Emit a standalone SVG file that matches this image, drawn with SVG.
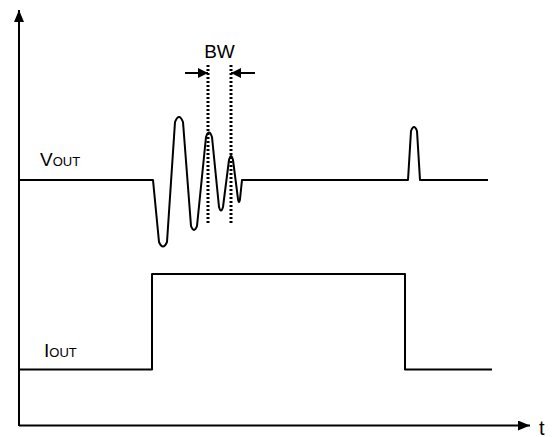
<svg xmlns="http://www.w3.org/2000/svg" width="553" height="437" viewBox="0 0 553 437">
<style>
.ln{fill:none;stroke:#000;stroke-width:2;stroke-linejoin:round}
.dot{fill:none;stroke:#000;stroke-width:3;stroke-dasharray:2 2}
.tx{font-family:"Liberation Sans",Arial,sans-serif;fill:#000}
</style>
<defs>
<marker id="ah" viewBox="0 0 12 10" refX="12" refY="5" markerWidth="12" markerHeight="10" markerUnits="userSpaceOnUse" orient="auto">
<path d="M0,0 L12,5 L0,10 Z" fill="#000"/>
</marker>
<marker id="ahs" viewBox="0 0 10 10" refX="10" refY="5" markerWidth="10" markerHeight="10" markerUnits="userSpaceOnUse" orient="auto">
<path d="M0,0 L10,5 L0,10 Z" fill="#000"/>
</marker>
</defs>
<rect width="553" height="437" fill="#fff"/>
<g id="connectors">
<path id="y-axis" class="ln" d="M19,426 V10" marker-end="url(#ah)"/>
<path id="x-axis" class="ln" d="M19,425.5 H530" marker-end="url(#ah)"/>
<path id="bw-left" class="ln" d="M185,73 H208" marker-end="url(#ahs)"/>
<path id="bw-right" class="ln" d="M255,73 H231" marker-end="url(#ahs)"/>
</g>
<g id="vout">
<path class="ln" d="M19,180 L153,180 L159,242 Q163,251 167,242 L175,122 Q179,112 183,122 L191,226 Q194,234 197,226 L206,137 Q209,128 212,137 L219,207 Q221,214 223,207 L229,160 Q231,152 233,160 L238,199 Q239,205 240,199 L242,180 L408,180 L411,131 Q414,123 417,131 L420,180 L488,180"/>
<text class="tx" x="40" y="166"><tspan font-size="19">V</tspan><tspan font-size="13">OUT</tspan></text>
</g>
<g id="iout">
<path class="ln" d="M19,369.5 H152 V274 H405 V369.5 H492"/>
<text class="tx" x="44" y="357"><tspan font-size="19">I</tspan><tspan font-size="13">OUT</tspan></text>
</g>
<g id="bw">
<path class="dot" d="M208,65 V225"/>
<path class="dot" d="M231,65 V225"/>
<text class="tx" x="219.5" y="58" font-size="19" text-anchor="middle">BW</text>
</g>
<g id="t-label">
<text class="tx" x="539" y="435" font-size="20">t</text>
</g>
</svg>
